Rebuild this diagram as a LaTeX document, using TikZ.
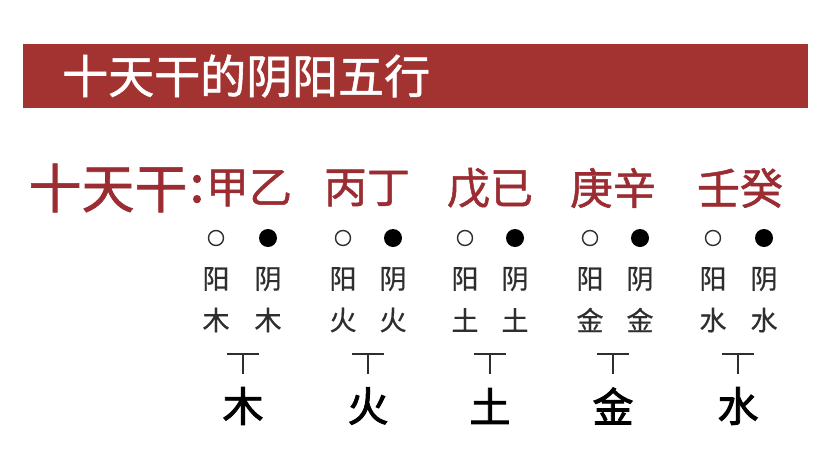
\documentclass[tikz,border=0pt]{standalone}
\usepackage{fontspec}
\newfontfamily\cjk{Noto Sans CJK SC}
\newfontfamily\cjkm[FakeBold=1.2]{Noto Sans CJK SC}
\newfontfamily\cjks[FakeBold=0.6]{Noto Sans CJK SC}
\newfontfamily\cjkb[FakeBold=2.2]{Noto Sans CJK SC}
\newfontfamily\cjkc[FakeBold=2.5]{Noto Sans CJK SC}
\definecolor{barred}{HTML}{A23330}
\definecolor{txtred}{HTML}{9B2C31}
\definecolor{txtgray}{HTML}{2E2E2E}
\begin{document}
\begin{tikzpicture}[x=1pt,y=-1pt,
  titletext/.style={text=white,inner sep=0,font=\cjkm\fontsize{46}{46}\selectfont,anchor=west},
  redtext/.style={text=txtred,inner sep=0,font=\cjkm\fontsize{43}{43}\selectfont},
  bigred/.style={text=txtred,inner sep=0,font=\cjkm\fontsize{53}{53}\selectfont},
  smalltext/.style={text=txtgray,inner sep=0,font=\cjks\fontsize{27}{27}\selectfont},
  bigtext/.style={text=black,inner sep=0,font=\cjkb\fontsize{41}{41}\selectfont},
  yangdot/.style={circle,draw=txtgray,line width=1.4pt,minimum size=15pt,inner sep=0},
  yindot/.style={circle,fill=black,minimum size=18pt,inner sep=0},
  tmark/.style={line width=1.5pt,draw=txtgray}]
\useasboundingbox (0,0) rectangle (820,464);
\fill[white] (0,0) rectangle (820,464);
% title bar
\fill[barred] (23,44) rectangle (808,108);
\node[titletext] (title) at (62,76) {十天干的阴阳五行};
% first row
\node[bigred] (tg) at (108,188) {十天干};
\node[redtext,font=\cjkc\fontsize{50}{50}\selectfont] (colon) at (197,189) {:};
\node[redtext] (p1) at (249,188) {甲乙};
\node[redtext] (p2) at (367,188) {丙丁};
\node[redtext] (p3) at (490,188) {戊已};
\node[redtext] (p4) at (613,188) {庚辛};
\node[redtext] (p5) at (740,188) {壬癸};
% columns
\foreach \i/\xa/\xb/\xc/\e in {1/216/268/243/木,2/343/393/368/火,3/465/515/490/土,4/590/640/613/金,5/713/764/738/水}{
  \node[yangdot] (o\i) at (\xa,238) {};
  \node[yindot] (f\i) at (\xb,238) {};
  \node[smalltext] (ya\i) at (\xa,279) {阳};
  \node[smalltext] (yi\i) at (\xb,279) {阴};
  \node[smalltext] (ea\i) at (\xa,320) {\e};
  \node[smalltext] (eb\i) at (\xb,320) {\e};
  \coordinate (tl\i) at (\xc-16,354);
  \coordinate (tr\i) at (\xc+16,354);
  \coordinate (tt\i) at (\xc,354);
  \coordinate (tb\i) at (\xc,374);
  \draw[tmark] (tl\i) -- (tr\i);
  \draw[tmark] (tt\i) -- (tb\i);
  \node[bigtext] (big\i) at (\xc,406) {\e};
}
\end{tikzpicture}
\end{document}
